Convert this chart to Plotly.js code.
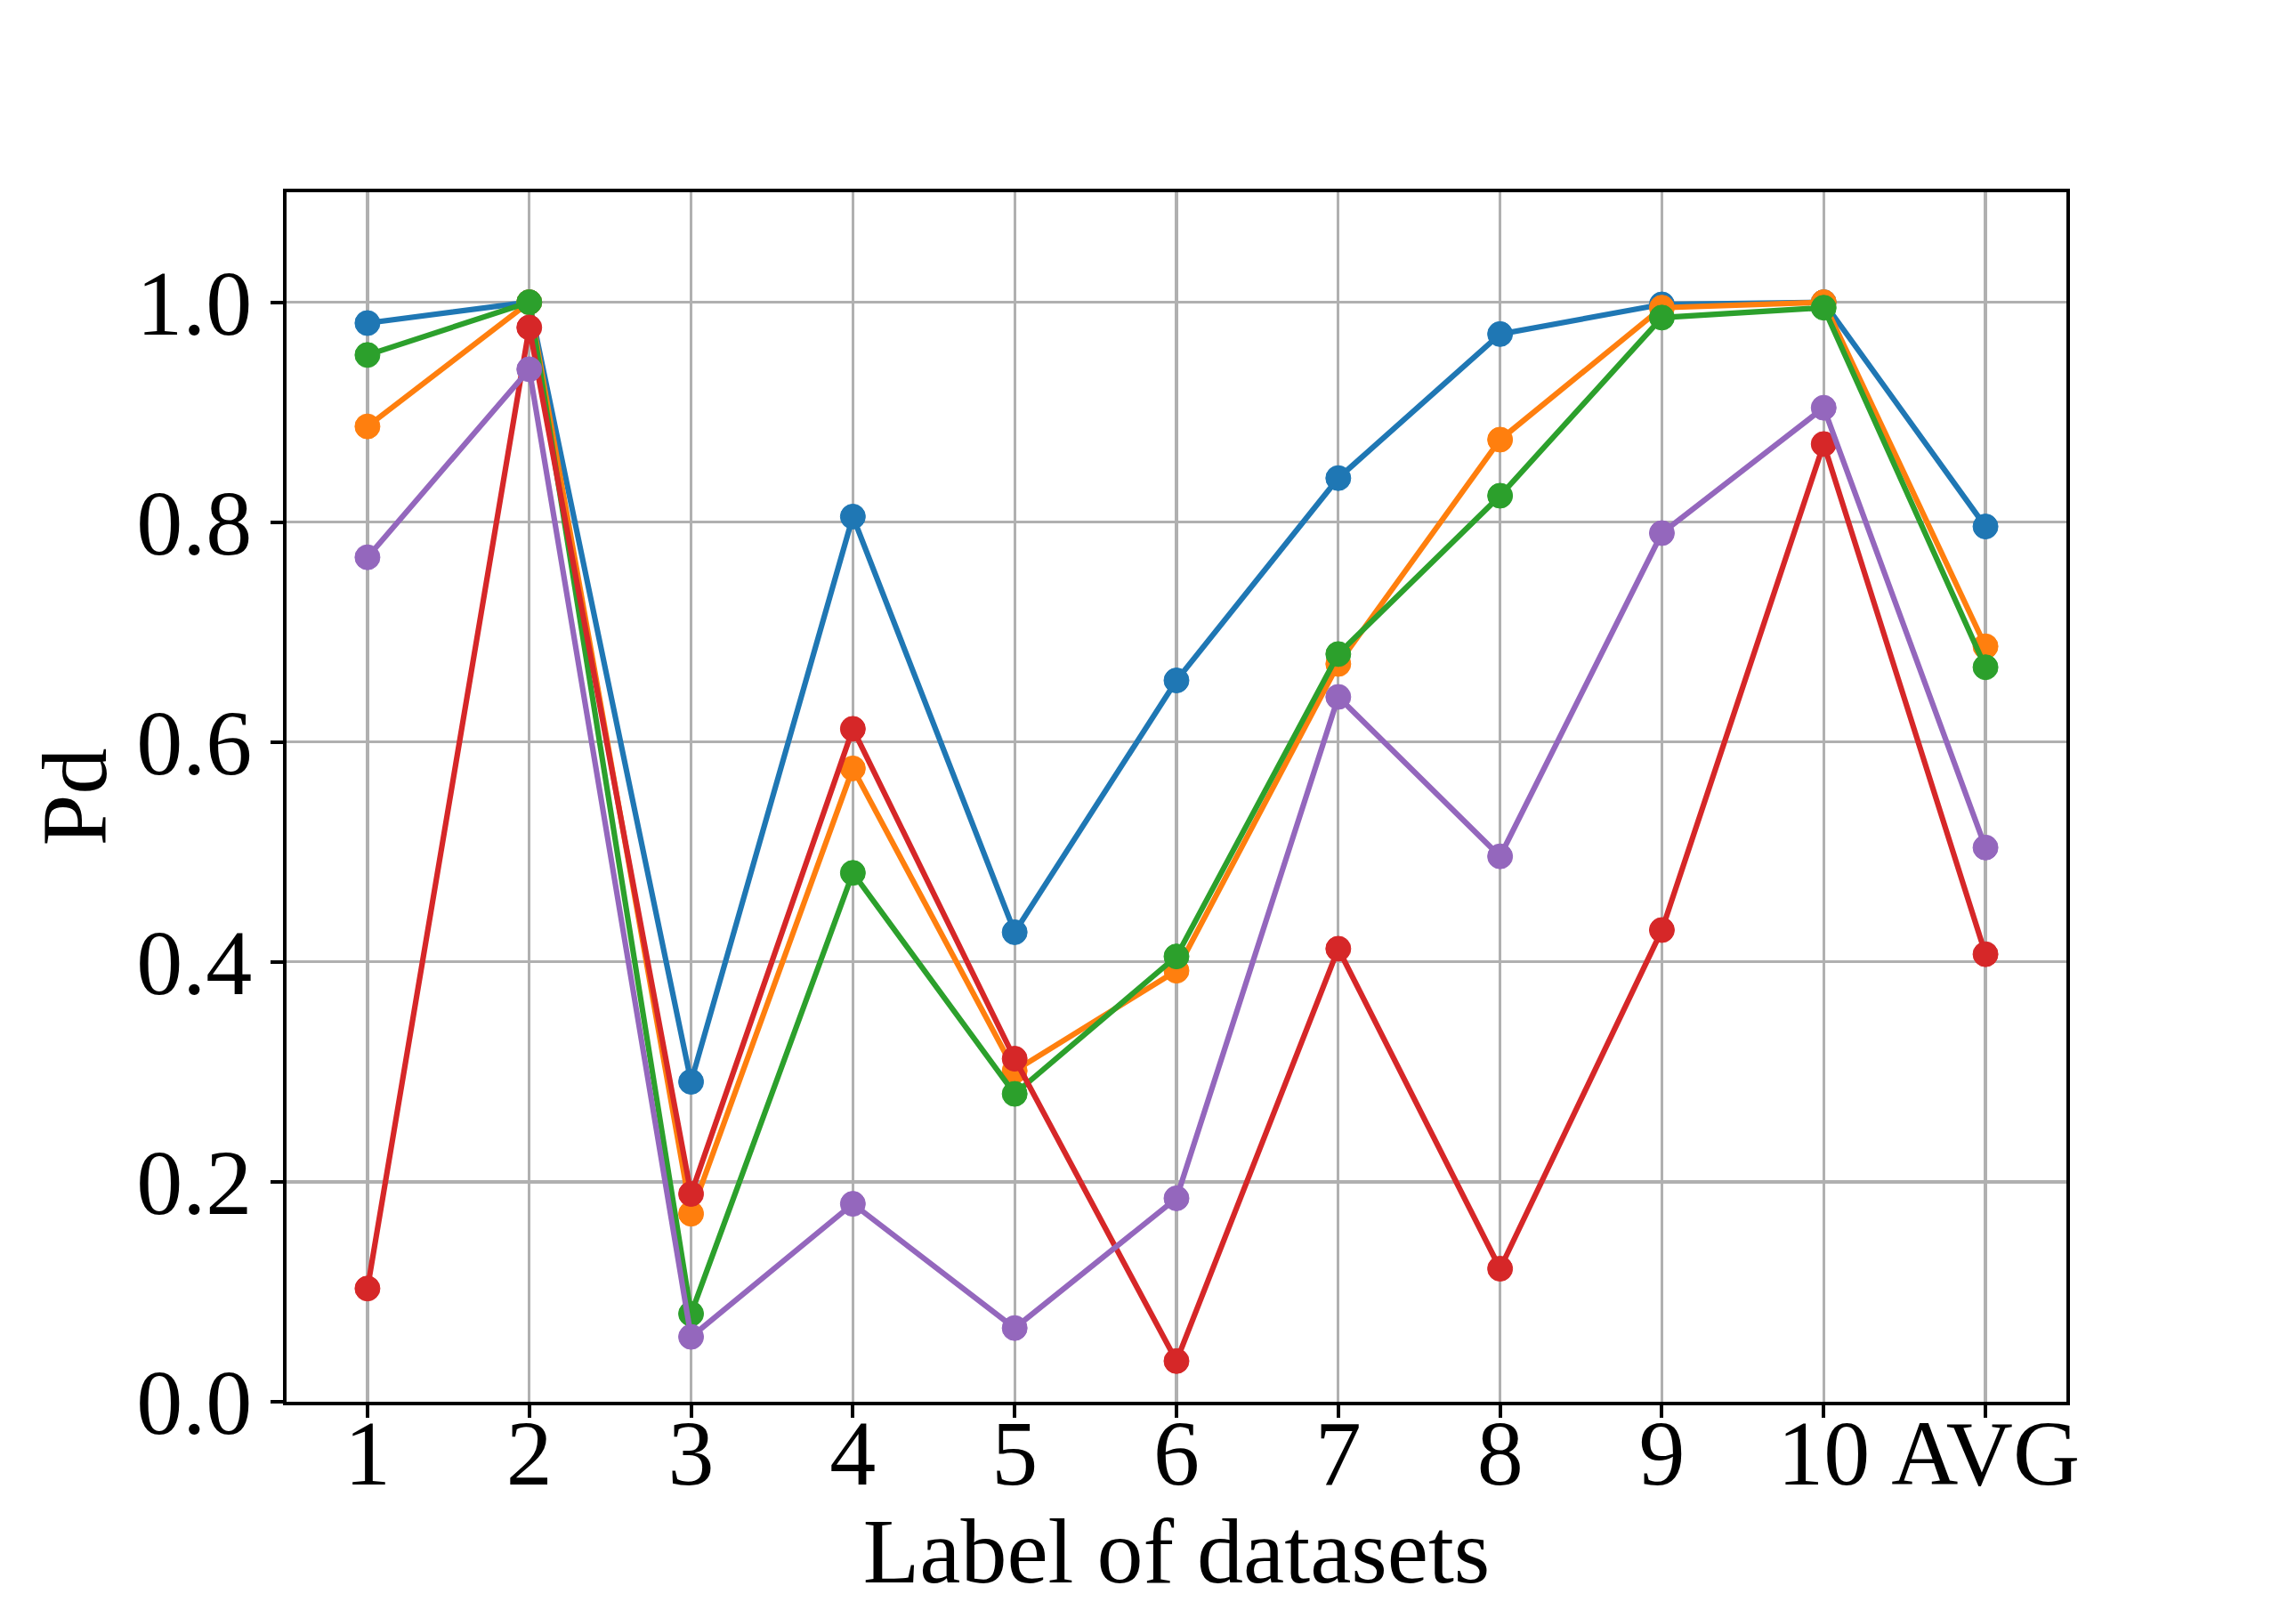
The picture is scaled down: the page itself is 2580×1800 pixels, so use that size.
<!DOCTYPE html>
<html>
<head>
<meta charset="utf-8">
<script src="https://cdn.plot.ly/plotly-3.0.1.min.js"></script>
<style>html,body{margin:0;padding:0;background:#fff;}</style>
</head>
<body>
<div id="chart" style="width:2580px;height:1800px;"></div>
<script>
const categories = ['1','2','3','4','5','6','7','8','9','10','AVG'];
const seriesBlue   = [0.981, 1.000, 0.291, 0.805, 0.427, 0.656, 0.840, 0.971, 0.998, 1.000, 0.796];
const seriesOrange = [0.887, 1.000, 0.171, 0.576, 0.301, 0.392, 0.671, 0.875, 0.995, 1.000, 0.687];
const seriesGreen  = [0.952, 1.000, 0.080, 0.481, 0.280, 0.405, 0.680, 0.824, 0.986, 0.995, 0.668];
const seriesRed    = [0.103, 0.977, 0.189, 0.612, 0.312, 0.037, 0.412, 0.121, 0.429, 0.871, 0.407];
const seriesPurple = [0.768, 0.939, 0.059, 0.180, 0.067, 0.185, 0.641, 0.496, 0.790, 0.904, 0.504];
const yTickVals = [0, 0.2, 0.4, 0.6, 0.8, 1.0];

const colors = ['#1f77b4', '#ff7f0e', '#2ca02c', '#d62728', '#9467bd'];
const allSeries = [seriesBlue, seriesOrange, seriesGreen, seriesRed, seriesPurple];

const traces = allSeries.map((s, i) => ({
  x: categories,
  y: s,
  type: 'scatter',
  mode: 'lines+markers',
  line: {color: colors[i], width: 6.2},
  marker: {color: colors[i], size: 28, line: {color: colors[i], width: 1}},
  showlegend: false,
  cliponaxis: false
}));

const font = {family: 'Liberation Serif, Times New Roman, serif', size: 104, color: '#000'};

const layout = {
  width: 2580,
  height: 1800,
  paper_bgcolor: '#fff',
  plot_bgcolor: '#fff',
  margin: {l: 322, r: 258, t: 216, b: 225},
  font: font,
  xaxis: {
    type: 'category',
    categoryorder: 'array',
    categoryarray: categories,
    range: [-0.5, 10.5],
    showgrid: true,
    gridcolor: '#b0b0b0',
    gridwidth: 3.3,
    showline: true,
    linecolor: '#000',
    linewidth: 4,
    mirror: true,
    ticks: 'outside',
    ticklen: 14,
    tickwidth: 4,
    tickcolor: '#000',
    tickfont: font,
    ticklabelstandoff: -50,
    zeroline: false,
    automargin: false,
    title: {text: 'Label of datasets', font: font}
  },
  yaxis: {
    range: [0, 1.1],
    tickvals: yTickVals,
    tickformat: '.1f',
    showgrid: true,
    gridcolor: '#b0b0b0',
    gridwidth: 3.3,
    showline: true,
    linecolor: '#000',
    linewidth: 4,
    mirror: true,
    ticks: 'outside',
    ticklen: 14,
    tickwidth: 4,
    tickcolor: '#000',
    tickfont: font,
    zeroline: false,
    automargin: true,
    title: {text: 'Pd', font: font, standoff: 0}
  }
};

Plotly.newPlot('chart', traces, layout, {displayModeBar: false, staticPlot: true});
</script>
</body>
</html>
